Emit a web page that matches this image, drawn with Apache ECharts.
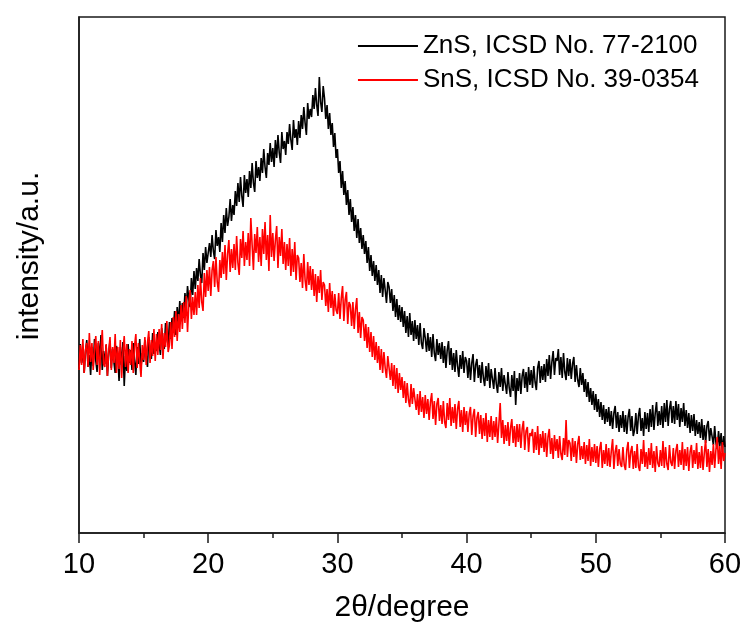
<!DOCTYPE html>
<html>
<head>
<meta charset="utf-8">
<script src="https://cdn.jsdelivr.net/npm/echarts@6/dist/echarts.min.js"></script>
<style>
html,body{margin:0;padding:0;background:#fff;}
#chart{width:747px;height:633px;}
</style>
</head>
<body>
<div id="chart"></div>
<script>
// 2θ sampling grid (degrees)
const twoThetaStart = 10;
const twoThetaStep = 0.1;
const xTicks = [10, 20, 30, 40, 50, 60];
const seriesNames = ['ZnS, ICSD No. 77-2100', 'SnS, ICSD No. 39-0354'];

// Intensity (arbitrary units), one row per degree
const znsIntensity = [
 164,189,170,185,160,181,193,166,178,158,
 186,167,194,172,161,190,175,198,163,182,
 169,188,157,180,192,165,184,171,160,187,
 179,152,186,168,191,147,177,162,189,170,
 183,163,190,172,158,186,169,194,166,180,
 171,193,178,166,196,184,174,200,179,190,
 182,201,190,178,205,193,184,210,195,188,
 211,194,215,203,222,198,226,209,232,214,
 230,215,240,224,247,233,226,255,238,262,
 244,265,252,274,258,250,280,263,286,270,
 268,290,276,298,282,274,303,287,296,281,
 310,291,318,300,325,307,316,334,312,328,
 318,342,327,350,331,356,337,326,358,340,
 354,336,362,345,370,350,341,372,355,366,
 352,375,360,384,366,355,380,368,390,371,
 385,366,393,375,398,380,370,401,384,392,
 378,401,389,409,393,383,413,395,404,388,
 412,395,418,404,426,410,398,430,414,424,
 416,438,424,445,428,417,456,431,421,447,
 435,414,428,404,420,398,410,386,400,375,
 384,360,372,345,362,338,352,328,343,318,
 334,311,326,302,318,295,314,290,305,284,
 298,279,292,270,286,262,278,257,272,252,
 268,248,263,240,258,236,255,243,230,251,
 246,230,244,222,238,216,234,213,228,211,
 226,206,222,200,217,196,220,198,212,192,
 213,194,208,188,210,190,184,205,195,181,
 200,182,196,176,199,180,172,194,178,190,
 174,191,170,187,165,183,192,168,185,163,
 180,161,183,167,156,178,164,182,160,176,
 172,155,175,153,170,179,151,168,174,155,
 168,150,171,155,147,167,152,170,145,164,
 162,144,165,149,140,161,146,165,142,158,
 157,139,161,145,136,158,142,162,128,155,
 142,160,139,157,164,145,161,141,166,148,
 163,145,167,151,143,165,172,150,167,153,
 169,151,174,157,178,154,171,182,158,175,
 172,184,158,176,155,180,161,153,175,157,
 174,154,169,176,151,168,153,146,165,148,
 160,141,154,136,151,131,145,128,142,123,
 139,121,134,116,131,113,128,109,124,111,
 126,107,122,104,120,127,105,121,101,118,
 105,122,101,118,99,116,124,102,117,97,
 103,120,99,117,125,102,115,97,121,104,
 120,101,124,106,128,103,120,131,107,122,
 108,127,105,130,111,133,107,124,132,110,
 127,109,132,113,129,106,125,111,130,107,
 123,105,120,100,118,102,119,97,113,99,
 111,95,114,93,108,90,107,112,92,105,
 104,88,107,90,84,102,87,100,81,97,
 86
];

const snsIntensity = [
 163,188,168,194,160,183,190,166,200,171,
 190,163,184,197,168,192,158,183,203,169,
 166,189,157,182,196,163,186,170,199,160,
 186,164,193,155,181,197,166,189,160,184,
 168,192,160,187,199,165,190,172,156,188,
 173,196,168,190,202,170,193,177,204,172,
 199,178,204,183,209,174,200,186,212,181,
 188,211,184,216,196,222,192,219,201,228,
 204,231,210,237,201,229,243,214,236,218,
 241,218,248,225,255,231,222,260,236,263,
 242,266,237,263,272,246,276,251,241,273,
 255,281,259,288,253,279,293,261,284,265,
 289,263,297,270,258,294,275,302,267,291,
 273,300,267,315,288,263,299,280,306,271,
 296,267,304,279,311,273,298,262,318,276,
 300,272,293,307,265,296,277,304,269,291,
 263,289,267,295,257,284,261,291,253,278,
 275,251,270,245,279,253,242,271,248,267,
 243,264,237,259,231,257,240,263,233,251,
 248,227,244,221,250,225,242,217,239,223,
 219,240,214,235,247,212,233,241,209,231,
 228,207,231,204,224,235,200,221,195,216,
 213,192,209,185,206,181,201,176,197,173,
 191,170,187,163,184,160,181,165,155,177,
 175,153,170,147,168,144,165,140,160,143,
 156,135,152,130,150,133,126,149,129,145,
 143,123,139,118,142,121,136,115,138,119,
 134,113,131,140,114,132,108,129,135,112,
 128,109,132,111,105,130,113,135,107,126,
 110,129,104,124,132,106,123,101,126,108,
 122,101,119,126,98,117,124,96,115,121,
 99,118,94,115,97,120,91,113,96,117,
 93,112,96,116,90,109,130,95,113,89,
 108,92,111,87,105,114,90,107,86,109,
 91,109,85,104,112,83,102,106,81,100,
 97,104,80,101,83,107,78,99,85,102,
 81,100,76,96,104,79,95,74,98,82,
 94,75,97,79,73,95,78,113,76,93,
 90,72,95,76,92,70,89,97,73,87,
 74,91,69,88,72,94,67,86,71,89,
 70,87,66,84,91,65,83,69,89,67,
 85,66,82,94,64,81,88,67,84,69,
 66,86,68,63,83,91,65,81,87,64,
 82,65,89,67,62,84,69,93,66,81,
 64,85,68,90,65,82,61,87,70,66,
 83,67,92,65,86,69,63,88,71,67,
 85,64,82,89,66,83,68,91,63,84,
 67,86,62,81,88,65,83,69,90,64,
 81,65,87,63,80,93,66,84,61,82,
 68,89,65,84,96,69,87,64,91,72,
 80
];

function pair(values) {
  return values.map((v, i) => [+(twoThetaStart + i * twoThetaStep).toFixed(2), v]);
}

const FONT = 'Liberation Sans, Arial, sans-serif';
const chart = echarts.init(document.getElementById('chart'));
chart.setOption({
  animation: false,
  backgroundColor: '#ffffff',
  grid: {
    left: 79, right: 22, top: 17, bottom: 100,
    show: true, borderColor: '#1a1a1a', borderWidth: 1.5
  },
  legend: {
    orient: 'vertical',
    right: 43, top: 26,
    itemWidth: 60, itemHeight: 2, itemGap: 4,
    icon: 'rect',
    textStyle: { fontFamily: FONT, fontSize: 26, color: '#000', lineHeight: 30 },
    data: seriesNames
  },
  xAxis: {
    type: 'value',
    min: xTicks[0], max: xTicks[xTicks.length - 1], interval: 10,
    name: '2θ/degree', nameLocation: 'middle', nameGap: 60,
    nameTextStyle: { fontFamily: FONT, fontSize: 30, color: '#000' },
    axisLine: { show: true, lineStyle: { color: '#1a1a1a', width: 1.5 } },
    axisTick: { show: true, inside: false, length: 10, lineStyle: { color: '#1a1a1a', width: 1.5 } },
    minorTick: { show: true, splitNumber: 2, length: 5, lineStyle: { color: '#1a1a1a', width: 1.5 } },
    axisLabel: { fontFamily: FONT, fontSize: 29, color: '#000', margin: 17 },
    splitLine: { show: false }
  },
  yAxis: {
    type: 'value', min: 0, max: 516,
    name: 'intensity/a.u.', nameLocation: 'middle', nameGap: 34,
    nameTextStyle: { fontFamily: FONT, fontSize: 30, color: '#000', padding: [0, 0, 0, 38] },
    axisLine: { show: true, lineStyle: { color: '#1a1a1a', width: 1.5 } },
    axisTick: { show: false },
    axisLabel: { show: false },
    splitLine: { show: false }
  },
  series: [
    {
      name: seriesNames[0], type: 'line', symbol: 'none',
      data: pair(znsIntensity),
      lineStyle: { color: '#000000', width: 1.6 },
      itemStyle: { color: '#000000' }
    },
    {
      name: seriesNames[1], type: 'line', symbol: 'none',
      data: pair(snsIntensity),
      lineStyle: { color: '#ff0000', width: 1.6 },
      itemStyle: { color: '#ff0000' }
    }
  ]
});
</script>
</body>
</html>
